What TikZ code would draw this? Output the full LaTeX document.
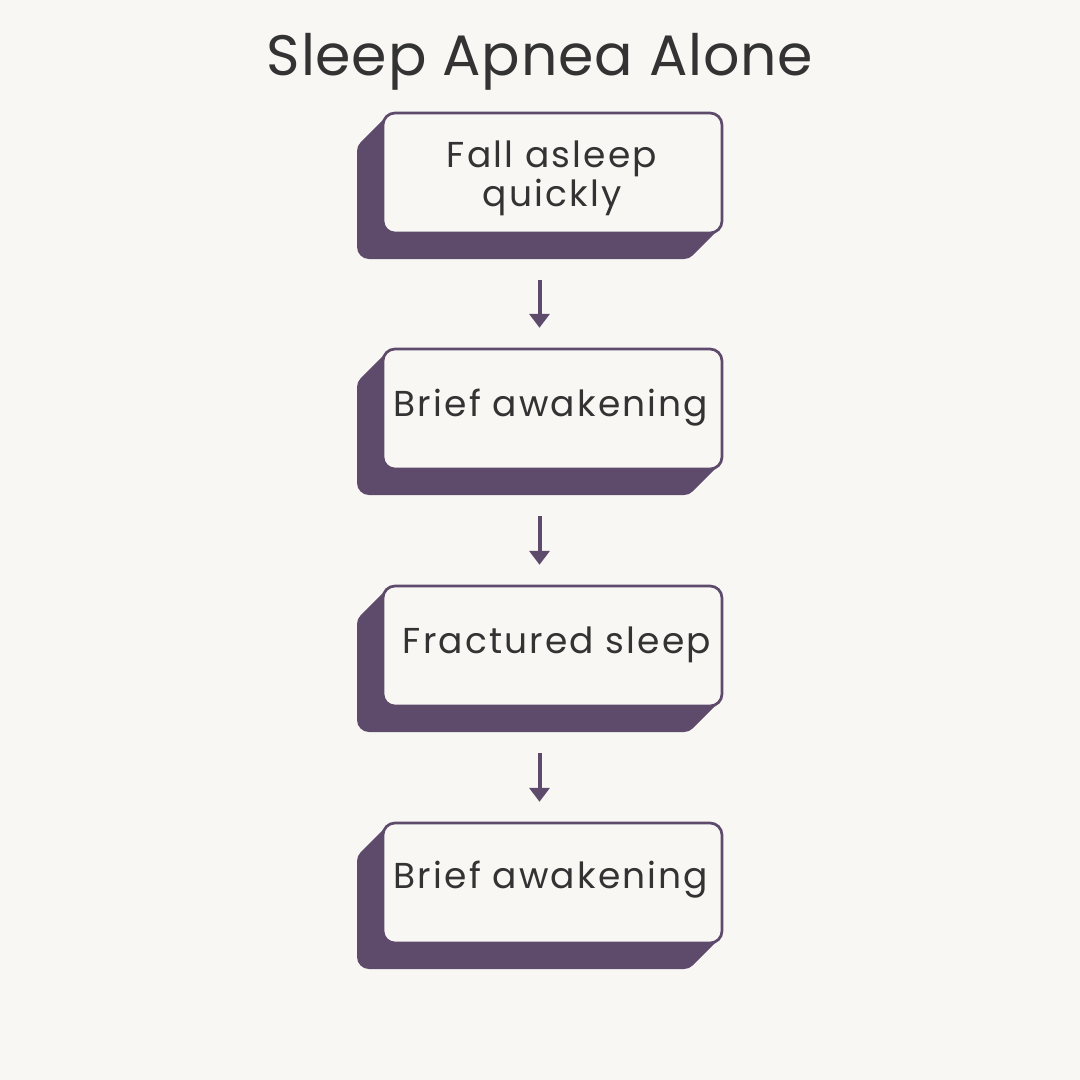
\documentclass[tikz,border=0pt]{standalone}
\usepackage{fontspec}
\setmainfont{Poppins}
\newfontfamily\boxfont[LetterSpace=6]{Poppins}
\newfontfamily\titlefont[LetterSpace=1.4]{Poppins}
\usetikzlibrary{arrows.meta}
\definecolor{bgc}{HTML}{F8F7F4}
\definecolor{plum}{HTML}{5E4A6B}
\definecolor{ink}{HTML}{333333}
\tikzset{
  frontbox/.style={draw=plum, line width=2.7pt, fill=bgc, rounded corners=12pt,
    minimum width=339pt, minimum height=120pt, inner sep=0pt},
  blockarea/.style={minimum width=365pt, minimum height=146pt, inner sep=0pt},
  boxtext/.style={text=ink, font=\boxfont\fontsize{36pt}{39pt}\selectfont, anchor=base, inner sep=0pt, align=center},
  flowarrow/.style={draw=plum, line width=4pt, -{Triangle[width=20pt,length=14pt]}},
}
\begin{document}
\begin{tikzpicture}[x=1pt,y=-1pt]
\fill[bgc] (0,0) rectangle (1080,1080);
\useasboundingbox (0,0) rectangle (1080,1080);
\node[text=ink, font=\titlefont\fontsize{57pt}{60pt}\selectfont, anchor=base, inner sep=0pt] (title) at (540,75) {Sleep Apnea Alone};
% boxes
\foreach \n/\t in {1/113,2/349,3/586,4/823}{
  \foreach \i in {0,1,...,26}{
    \fill[plum, rounded corners=12pt] (383-\i,\t+\i) rectangle (722-\i,\t+120+\i);
  }
  \node[blockarea] (blk\n) at (539.5,\t+73) {};
  \node[frontbox] (box\n) at (552.5,\t+60) {};
}
\node[boxtext] (t1) at (552,206) {Fall asleep\\quickly};
\node[boxtext] (t2) at (551,416) {Brief awakening};
\node[boxtext] (t3) at (557,653) {Fractured sleep};
\node[boxtext] (t4) at (551,888) {Brief awakening};
\draw[flowarrow] ([yshift=-21pt]blk1.south) -- ([yshift=21pt]blk2.north);
\draw[flowarrow] ([yshift=-21pt]blk2.south) -- ([yshift=21pt]blk3.north);
\draw[flowarrow] ([yshift=-21pt]blk3.south) -- ([yshift=21pt]blk4.north);
\end{tikzpicture}
\end{document}
